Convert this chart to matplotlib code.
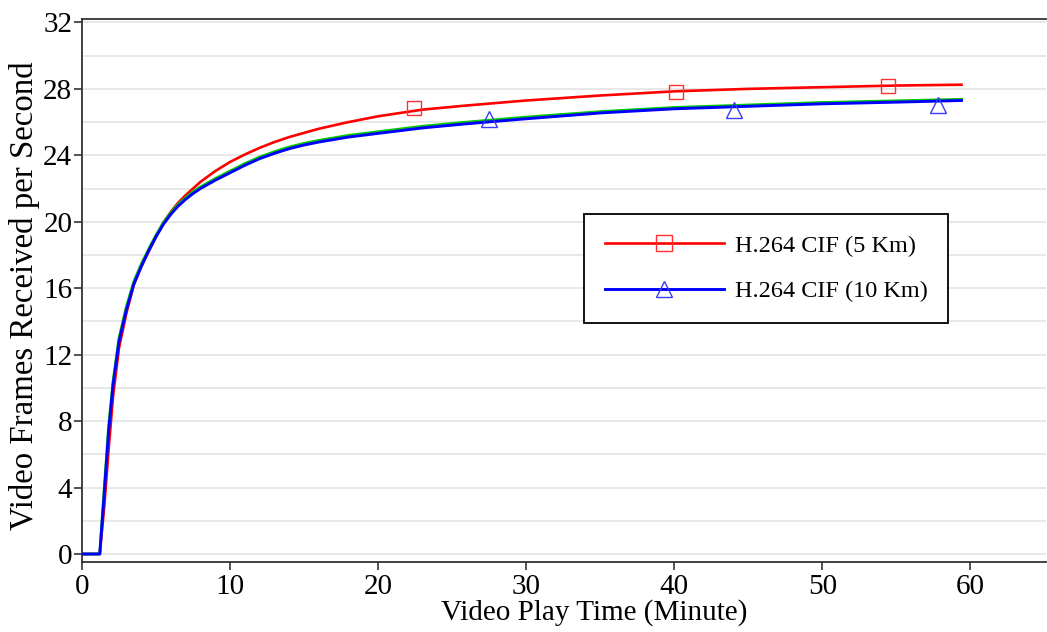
import numpy as np
import matplotlib
matplotlib.use("Agg")
import matplotlib.pyplot as plt
from matplotlib.lines import Line2D

plt.rcParams['font.family'] = ['Liberation Serif', 'DejaVu Serif']

time_min = [0, 1.2, 1.5, 1.8, 2.1, 2.5, 3, 3.5, 4, 4.5, 5, 5.5, 6, 6.5, 7, 7.5, 8, 9, 10,
            11, 12, 13, 14, 15, 16, 18, 20, 23, 26, 30, 35, 40, 45, 50, 55, 59.4]

# frames received per second
fps_5km = [0, 0, 2.8, 6.3, 9.5, 12.4, 14.5, 16.2, 17.3, 18.2, 19.1, 19.95, 20.6,
           21.15, 21.6, 22.0, 22.4, 23.05, 23.6, 24.05, 24.45, 24.8, 25.1, 25.35,
           25.6, 26.0, 26.35, 26.75, 27.0, 27.3, 27.6, 27.85, 28.0, 28.1, 28.2, 28.25]
fps_green = [0, 0, 3.9, 7.7, 10.4, 13.0, 14.9, 16.4, 17.45, 18.35, 19.2, 19.95,
             20.55, 21.05, 21.45, 21.8, 22.1, 22.6, 23.05, 23.5, 23.9, 24.22, 24.5,
             24.72, 24.9, 25.2, 25.42, 25.75, 26.0, 26.3, 26.63, 26.88, 27.03,
             27.18, 27.28, 27.37]
fps_10km = [0, 0, 3.6, 7.4, 10.2, 12.8, 14.7, 16.25, 17.3, 18.25, 19.1, 19.85,
            20.45, 20.95, 21.35, 21.7, 22.0, 22.5, 22.95, 23.4, 23.8, 24.12, 24.4,
            24.62, 24.8, 25.1, 25.32, 25.65, 25.9, 26.2, 26.55, 26.8, 26.95, 27.1,
            27.2, 27.3]

# hollow marker positions
sq_x = [22.4, 40.1, 54.4]
sq_y = [26.85, 27.8, 28.2]
tri_x = [27.5, 44.0, 57.8]
tri_y = [26.2, 26.7, 27.05]

fig = plt.figure(figsize=(10.47, 6.32), dpi=100)
ax = fig.add_axes([0.0783, 0.1108, 0.9207, 0.859])

ax.plot(time_min, fps_5km, color='#ff0000', lw=1.9, zorder=3)
ax.plot(time_min, fps_green, color='#00cc00', lw=2.0, zorder=3)
ax.plot(time_min, fps_10km, color='#0000ff', lw=2.1, zorder=4)

ax.plot(sq_x, sq_y, ls='none', marker='s', ms=9.5, mfc='none', mec='#ff3030', mew=1.0, zorder=5)
ax.plot(tri_x, tri_y, ls='none', marker='^', ms=12, mfc='none', mec='#3a3aff', mew=1.0, zorder=5)

ax.set_xlim(0, 65.1)
ax.set_ylim(-0.48, 32.2)
ax.set_xticks([0, 10, 20, 30, 40, 50, 60])
ax.set_yticks(np.arange(0, 33, 4))
ax.set_yticks(np.arange(0, 33, 2), minor=True)
ax.yaxis.grid(True, which='both', color='#e8e8e8', lw=1.4, zorder=0)
ax.set_axisbelow(True)
ax.tick_params(axis='both', which='major', labelsize=21, length=6, width=1.2, direction='out', color='#333333')
ax.tick_params(axis='y', which='minor', length=0)
ax.tick_params(axis='x', pad=3)
ax.tick_params(axis='y', pad=1)

for s in ['left', 'bottom', 'top']:
    ax.spines[s].set_color('#333333')
    ax.spines[s].set_linewidth(1.3)
ax.spines['right'].set_visible(False)

ax.set_xlabel('Video Play Time (Minute)', fontsize=21)
ax.xaxis.set_label_coords(0.531, -0.068)
ax.set_ylabel('Video Frames Received per Second', fontsize=23.7)
ax.yaxis.set_label_coords(-0.044, 0.49)

handles = [
    Line2D([], [], color='#ff0000', lw=1.9, marker='s', ms=11, mfc='none', mec='#ff3030', mew=1.0),
    Line2D([], [], color='#0000ff', lw=2.1, marker='^', ms=12, mfc='none', mec='#3a3aff', mew=1.0),
]
leg = ax.legend(handles, ['H.264 CIF (5 Km)', 'H.264 CIF (10 Km)'],
                loc='upper left', bbox_to_anchor=(0.5578, 0.661), bbox_transform=fig.transFigure,
                fontsize=17.5, fancybox=False, framealpha=1, edgecolor='black',
                handlelength=4.9, borderpad=0.85, labelspacing=0.95, handletextpad=0.45,
                borderaxespad=0)
leg.get_frame().set_linewidth(1.3)

fig.savefig('out.png', dpi=100)
